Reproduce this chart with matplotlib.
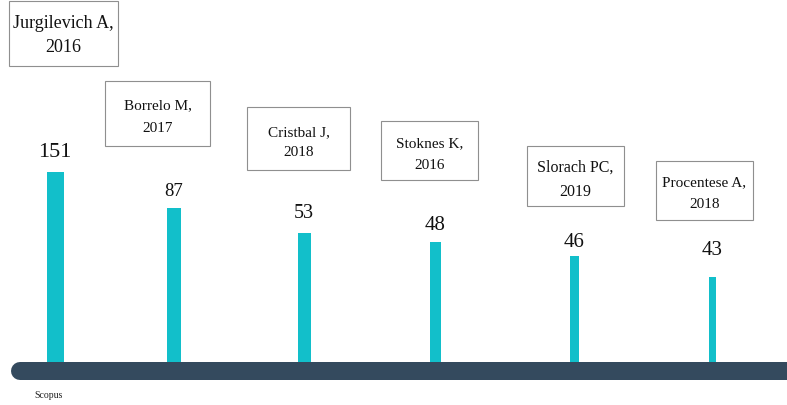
import matplotlib
matplotlib.use("Agg")
import matplotlib.pyplot as plt
from matplotlib.patches import Rectangle

# ---------------- data ----------------
authors = ["Jurgilevich A,", "Borrelo M,", "Cristbal J,", "Stoknes K,", "Slorach PC,", "Procentese A,"]
years = ["2016", "2017", "2018", "2016", "2019", "2018"]
citations = [151, 87, 53, 48, 46, 43]
# drawn bar lengths (same units as the first bar)
bar_heights = [151, 122.4, 102.5, 95.4, 84.3, 67.6]
source_label = "Scopus"

# ---------------- layout (pixels) ----------------
W, H = 787, 406
base_px = 363            # top of the baseline band (from top)
px_per_unit = 190 / 151
bar_x = [55, 174, 304, 435, 574, 712]
bar_w = [17, 14, 13, 11, 9, 7]
val_y = [153, 192, 214, 226, 243, 251]
val_fs = [16, 13.5, 14.5, 15, 15, 15]
# boxes: x0, y0 (top), x1, y1 (bottom)
boxes = [(9, 2, 118, 67), (105, 82, 210, 147), (247, 108, 350, 171),
         (381, 122, 478, 181), (527, 147, 624, 207), (656, 162, 753, 221)]
box_fs = [13, 11, 11, 11, 11.5, 11]
box_ls = [1.55, 2.0, 1.75, 1.85, 1.75, 1.85]
box_dy = [1, 3, 3, 3, 3, 2]

cyan = "#12bfca"
slate = "#344a5e"
serif = ["Liberation Serif", "DejaVu Serif"]

fig = plt.figure(figsize=(W / 100, H / 100), dpi=100)

# data axes: x in pixels, y in bar units with baseline at 0
ax = fig.add_axes([0, 0, 1, 1])
ax.set_xlim(0, W)
ax.set_ylim(-(H - base_px) / px_per_unit, base_px / px_per_unit)
ax.axis("off")
ax.bar(bar_x, bar_heights, width=bar_w, color=cyan, zorder=2)

# overlay axes in pixel coordinates (y down)
lay = fig.add_axes([0, 0, 1, 1], facecolor="none")
lay.set_xlim(0, W)
lay.set_ylim(H, 0)
lay.axis("off")

# baseline band
lay.plot([20, 820], [372, 372], color=slate, lw=18 * 72 / 100,
         solid_capstyle="round", zorder=5)

for i in range(len(citations)):
    lay.text(bar_x[i], val_y[i], str(citations[i]), ha="center", va="center",
             fontsize=val_fs[i], family=serif, color="#111111")
    x0, y0, x1, y1 = boxes[i]
    lay.add_patch(Rectangle((x0, y0), x1 - x0, y1 - y0, fill=False,
                            edgecolor="#8f8f8f", lw=0.8))
    cx, cy = (x0 + x1) / 2, (y0 + y1) / 2
    lay.text(cx, cy + box_dy[i], authors[i] + "\n" + years[i], ha="center",
             va="center", fontsize=box_fs[i], family=serif, color="#111111",
             linespacing=box_ls[i])

lay.text(49, 396, source_label, ha="center", va="center", fontsize=7,
         family=serif, color="#222222")

fig.savefig("out.png", dpi=100)
